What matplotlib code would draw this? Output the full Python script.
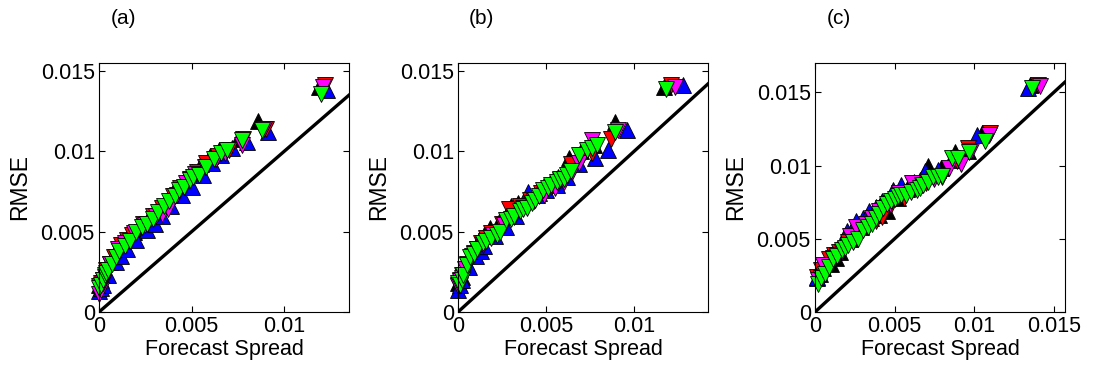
import numpy as np
import matplotlib
matplotlib.use('Agg')
import matplotlib.pyplot as plt

plt.rcParams['font.family'] = ['Liberation Sans', 'DejaVu Sans']

# ================================
# DATA  (forecast spread, RMSE) per panel and series
# ================================

panel_labels = ["(a)", "(b)", "(c)"]
series_names = ["black", "blue", "red", "magenta", "green"]

# ---- panel (a)
a_black_x = [0.0000, 0.0001, 0.0002, 0.0003, 0.0006, 0.0008, 0.0010, 0.0013, 0.0016, 0.0019, 0.0022, 0.0027, 0.0031, 0.0036, 0.0040, 0.0045, 0.0050, 0.0055, 0.0060, 0.0065, 0.0075, 0.0086, 0.0119]
a_black_y = [0.0017, 0.0020, 0.0023, 0.0025, 0.0031, 0.0036, 0.0040, 0.0043, 0.0046, 0.0050, 0.0053, 0.0059, 0.0063, 0.0069, 0.0075, 0.0080, 0.0087, 0.0092, 0.0097, 0.0101, 0.0108, 0.0119, 0.0140]
a_blue_x = [0.0000, 0.0001, 0.0002, 0.0005, 0.0009, 0.0012, 0.0015, 0.0020, 0.0026, 0.0030, 0.0034, 0.0039, 0.0045, 0.0050, 0.0056, 0.0061, 0.0066, 0.0072, 0.0080, 0.0091, 0.0123]
a_blue_y = [0.0013, 0.0015, 0.0017, 0.0023, 0.0031, 0.0035, 0.0039, 0.0045, 0.0051, 0.0055, 0.0060, 0.0066, 0.0073, 0.0078, 0.0085, 0.0093, 0.0098, 0.0102, 0.0106, 0.0112, 0.0138]
a_red_x = [0.0000, 0.0001, 0.0002, 0.0004, 0.0006, 0.0008, 0.0012, 0.0015, 0.0018, 0.0024, 0.0029, 0.0034, 0.0040, 0.0044, 0.0049, 0.0053, 0.0058, 0.0064, 0.0070, 0.0078, 0.0090, 0.0122]
a_red_y = [0.0016, 0.0018, 0.0020, 0.0026, 0.0030, 0.0034, 0.0042, 0.0045, 0.0048, 0.0055, 0.0060, 0.0065, 0.0072, 0.0077, 0.0083, 0.0087, 0.0093, 0.0097, 0.0101, 0.0108, 0.0114, 0.0141]
a_mag_x = [0.0000, 0.0001, 0.0002, 0.0003, 0.0005, 0.0006, 0.0010, 0.0014, 0.0019, 0.0025, 0.0031, 0.0034, 0.0037, 0.0042, 0.0047, 0.0052, 0.0057, 0.0063, 0.0068, 0.0077, 0.0089, 0.0121]
a_mag_y = [0.0011, 0.0014, 0.0018, 0.0022, 0.0026, 0.0030, 0.0039, 0.0043, 0.0049, 0.0054, 0.0060, 0.0061, 0.0064, 0.0073, 0.0080, 0.0086, 0.0090, 0.0095, 0.0099, 0.0104, 0.0114, 0.0140]
a_green_x = [0.0000, 0.0001, 0.0002, 0.0003, 0.0004, 0.0005, 0.0007, 0.0009, 0.0011, 0.0014, 0.0017, 0.0020, 0.0023, 0.0026, 0.0029, 0.0032, 0.0035, 0.0038, 0.0041, 0.0043, 0.0046, 0.0049, 0.0051, 0.0054, 0.0058, 0.0062, 0.0066, 0.0069, 0.0077, 0.0088, 0.0120]
a_green_y = [0.0015, 0.0017, 0.0020, 0.0023, 0.0024, 0.0026, 0.0030, 0.0034, 0.0038, 0.0041, 0.0044, 0.0050, 0.0053, 0.0055, 0.0058, 0.0062, 0.0066, 0.0069, 0.0072, 0.0076, 0.0078, 0.0082, 0.0084, 0.0085, 0.0090, 0.0095, 0.0099, 0.0101, 0.0107, 0.0113, 0.0136]

# ---- panel (b)
b_black_x = [0.0000, 0.0001, 0.0002, 0.0005, 0.0009, 0.0012, 0.0015, 0.0018, 0.0024, 0.0030, 0.0034, 0.0040, 0.0046, 0.0052, 0.0057, 0.0063, 0.0070, 0.0077, 0.0089, 0.0117]
b_black_y = [0.0018, 0.0020, 0.0022, 0.0030, 0.0038, 0.0045, 0.0048, 0.0052, 0.0057, 0.0066, 0.0068, 0.0071, 0.0074, 0.0080, 0.0084, 0.0096, 0.0100, 0.0104, 0.0118, 0.0140]
b_blue_x = [0.0000, 0.0001, 0.0002, 0.0006, 0.0010, 0.0013, 0.0015, 0.0021, 0.0027, 0.0033, 0.0040, 0.0045, 0.0050, 0.0056, 0.0062, 0.0069, 0.0078, 0.0085, 0.0096, 0.0128]
b_blue_y = [0.0014, 0.0017, 0.0020, 0.0028, 0.0035, 0.0038, 0.0041, 0.0047, 0.0053, 0.0060, 0.0075, 0.0073, 0.0076, 0.0079, 0.0084, 0.0092, 0.0096, 0.0101, 0.0113, 0.0141]
b_red_x = [0.0000, 0.0001, 0.0002, 0.0005, 0.0009, 0.0013, 0.0016, 0.0019, 0.0025, 0.0029, 0.0035, 0.0041, 0.0047, 0.0053, 0.0058, 0.0064, 0.0071, 0.0076, 0.0087, 0.0121]
b_red_y = [0.0017, 0.0020, 0.0023, 0.0030, 0.0037, 0.0043, 0.0046, 0.0049, 0.0055, 0.0064, 0.0066, 0.0070, 0.0074, 0.0078, 0.0082, 0.0092, 0.0098, 0.0099, 0.0108, 0.0141]
b_mag_x = [0.0000, 0.0001, 0.0002, 0.0004, 0.0008, 0.0011, 0.0014, 0.0020, 0.0026, 0.0032, 0.0037, 0.0043, 0.0049, 0.0055, 0.0060, 0.0065, 0.0069, 0.0076, 0.0091, 0.0123]
b_mag_y = [0.0016, 0.0019, 0.0021, 0.0027, 0.0035, 0.0039, 0.0042, 0.0048, 0.0054, 0.0059, 0.0065, 0.0069, 0.0073, 0.0077, 0.0081, 0.0087, 0.0093, 0.0107, 0.0113, 0.0140]
b_green_x = [0.0000, 0.0001, 0.0002, 0.0003, 0.0005, 0.0007, 0.0009, 0.0011, 0.0014, 0.0016, 0.0019, 0.0022, 0.0024, 0.0027, 0.0030, 0.0032, 0.0035, 0.0037, 0.0039, 0.0042, 0.0044, 0.0046, 0.0048, 0.0051, 0.0053, 0.0056, 0.0058, 0.0060, 0.0062, 0.0064, 0.0069, 0.0073, 0.0076, 0.0079, 0.0089, 0.0118]
b_green_y = [0.0018, 0.0017, 0.0020, 0.0023, 0.0029, 0.0034, 0.0036, 0.0039, 0.0043, 0.0044, 0.0046, 0.0048, 0.0050, 0.0057, 0.0058, 0.0060, 0.0063, 0.0064, 0.0065, 0.0068, 0.0070, 0.0072, 0.0076, 0.0077, 0.0079, 0.0081, 0.0083, 0.0083, 0.0085, 0.0088, 0.0098, 0.0101, 0.0102, 0.0104, 0.0112, 0.0139]

# ---- panel (c)
c_black_x = [0.0001, 0.0003, 0.0005, 0.0010, 0.0013, 0.0016, 0.0022, 0.0029, 0.0035, 0.0040, 0.0045, 0.0052, 0.0058, 0.0066, 0.0071, 0.0079, 0.0088, 0.0096, 0.0105, 0.0135]
c_black_y = [0.0023, 0.0026, 0.0030, 0.0033, 0.0037, 0.0041, 0.0050, 0.0058, 0.0064, 0.0066, 0.0069, 0.0078, 0.0084, 0.0090, 0.0100, 0.0098, 0.0109, 0.0110, 0.0122, 0.0155]
c_blue_x = [0.0001, 0.0004, 0.0008, 0.0014, 0.0018, 0.0020, 0.0026, 0.0030, 0.0034, 0.0038, 0.0042, 0.0049, 0.0054, 0.0062, 0.0069, 0.0077, 0.0086, 0.0102, 0.0134]
c_blue_y = [0.0024, 0.0031, 0.0037, 0.0043, 0.0050, 0.0055, 0.0062, 0.0064, 0.0069, 0.0072, 0.0076, 0.0083, 0.0087, 0.0089, 0.0096, 0.0097, 0.0104, 0.0121, 0.0153]
c_red_x = [0.0001, 0.0004, 0.0009, 0.0012, 0.0015, 0.0021, 0.0027, 0.0033, 0.0038, 0.0042, 0.0048, 0.0056, 0.0063, 0.0070, 0.0080, 0.0089, 0.0096, 0.0110, 0.0140]
c_red_y = [0.0024, 0.0029, 0.0036, 0.0039, 0.0041, 0.0048, 0.0054, 0.0058, 0.0062, 0.0065, 0.0073, 0.0078, 0.0085, 0.0088, 0.0092, 0.0103, 0.0112, 0.0122, 0.0155]
c_mag_x = [0.0002, 0.0005, 0.0011, 0.0014, 0.0017, 0.0022, 0.0026, 0.0032, 0.0036, 0.0040, 0.0047, 0.0053, 0.0061, 0.0067, 0.0075, 0.0084, 0.0092, 0.0098, 0.0109, 0.0141]
c_mag_y = [0.0022, 0.0032, 0.0037, 0.0039, 0.0041, 0.0052, 0.0058, 0.0060, 0.0064, 0.0069, 0.0074, 0.0081, 0.0088, 0.0087, 0.0091, 0.0098, 0.0101, 0.0110, 0.0121, 0.0154]
c_green_x = [0.0002, 0.0004, 0.0006, 0.0009, 0.0011, 0.0014, 0.0017, 0.0019, 0.0021, 0.0024, 0.0027, 0.0030, 0.0033, 0.0036, 0.0038, 0.0040, 0.0043, 0.0045, 0.0048, 0.0050, 0.0052, 0.0054, 0.0057, 0.0060, 0.0064, 0.0066, 0.0068, 0.0071, 0.0074, 0.0077, 0.0080, 0.0086, 0.0090, 0.0097, 0.0107, 0.0136]
c_green_y = [0.0019, 0.0023, 0.0026, 0.0031, 0.0036, 0.0038, 0.0042, 0.0044, 0.0046, 0.0048, 0.0050, 0.0056, 0.0058, 0.0060, 0.0064, 0.0067, 0.0071, 0.0074, 0.0076, 0.0077, 0.0079, 0.0080, 0.0080, 0.0082, 0.0083, 0.0085, 0.0087, 0.0089, 0.0092, 0.0092, 0.0093, 0.0105, 0.0105, 0.0109, 0.0117, 0.0153]

panels = [
    [(a_black_x, a_black_y), (a_blue_x, a_blue_y), (a_red_x, a_red_y), (a_mag_x, a_mag_y), (a_green_x, a_green_y)],
    [(b_black_x, b_black_y), (b_blue_x, b_blue_y), (b_red_x, b_red_y), (b_mag_x, b_mag_y), (b_green_x, b_green_y)],
    [(c_black_x, c_black_y), (c_blue_x, c_blue_y), (c_red_x, c_red_y), (c_mag_x, c_mag_y), (c_green_x, c_green_y)],
]

x_limits = [0.0135, 0.0142, 0.0157]
y_limits = [0.0155, 0.0155, 0.0170]
x_ticks = [[0, 0.005, 0.01], [0, 0.005, 0.01], [0, 0.005, 0.01, 0.015]]
x_ticklabels = [["0", "0.005", "0.01"], ["0", "0.005", "0.01"], ["0", "0.005", "0.01", "0.015"]]
y_ticks = [0, 0.005, 0.01, 0.015]
y_ticklabels = ["0", "0.005", "0.01", "0.015"]

# ================================
# STYLE
# ================================

colors = ["black", "blue", "red", "magenta", "#00ff00"]
markers = ["^", "^", "v", "v", "v"]

# axes positions in figure fraction (left, bottom, width, height)
ax_left = [99 / 1095, 458 / 1095, 815 / 1095]
ax_bottom = 1 - 312 / 372
ax_w = 250 / 1095
ax_h = 249 / 372
label_x = [123, 481, 839]

fig = plt.figure(figsize=(10.95, 3.72), dpi=100)

for i in range(3):
    ax = fig.add_axes([ax_left[i], ax_bottom, ax_w, ax_h])
    xmax = x_limits[i]
    ax.plot([0, xmax * 1.02], [0, xmax * 1.02], color="black", lw=2.4, zorder=1)
    for (xs, ys), c, m in zip(panels[i], colors, markers):
        ax.plot(xs, ys, linestyle="none", marker=m, markersize=11,
                markerfacecolor=c, markeredgecolor="black",
                markeredgewidth=0.6, zorder=2, clip_on=False)
    ax.set_xlim(0, x_limits[i])
    ax.set_ylim(0, y_limits[i])
    ax.set_xticks(x_ticks[i])
    ax.set_xticklabels(x_ticklabels[i])
    ax.set_yticks(y_ticks)
    ax.set_yticklabels(y_ticklabels)
    ax.tick_params(direction="in", top=True, right=True, length=4,
                   width=0.8, labelsize=15.5, pad=3)
    for s in ax.spines.values():
        s.set_linewidth(0.8)
    ax.set_xlabel("Forecast Spread", fontsize=15.5, labelpad=1)
    ax.set_ylabel("RMSE", fontsize=16.5, labelpad=7)
    fig.text(label_x[i] / 1095, 1 - 18 / 372, panel_labels[i],
             fontsize=15, ha="center", va="center")

fig.savefig("out.png", dpi=100)
